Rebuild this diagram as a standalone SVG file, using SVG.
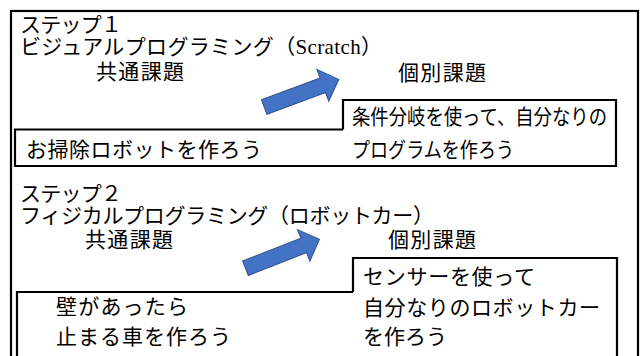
<svg xmlns="http://www.w3.org/2000/svg" width="642" height="356" viewBox="0 0 642 356">
<style>
.frame{fill:#fff;stroke:#000;stroke-width:2.2}
.box{fill:#fff;stroke:#000;stroke-width:2.2}
.hd{font-family:"Liberation Serif","Noto Sans CJK JP",serif;font-size:21px;fill:#000}
.tx{font-family:"Noto Sans CJK JP",sans-serif;font-size:21px;fill:#000}
.arrow{fill:#4472C4;stroke:#2F528F;stroke-width:1}
</style>
<defs>
<polygon id="blockArrow" points="0,-7.8 62.5,-7.8 62.5,-17 79.5,0 62.5,17 62.5,7.8 0,7.8"/>
</defs>
<rect width="642" height="356" fill="#fff"/>
<g id="frame">
<rect class="frame" x="11" y="11" width="627" height="360"/>
</g>
<g id="step1-header">
<text class="hd" x="20" y="32" textLength="102" lengthAdjust="spacing">ステップ１</text>
<text class="hd" x="20" y="54" textLength="362" lengthAdjust="spacing">ビジュアルプログラミング（Scratch）</text>
<text class="hd" x="96" y="79" textLength="88" lengthAdjust="spacing">共通課題</text>
<text class="hd" x="398" y="80" textLength="88" lengthAdjust="spacing">個別課題</text>
</g>
<g id="step1-common">
<path class="box" d="M343,129.5 H15 V166 H343"/>
<text class="tx" x="26" y="157" textLength="236" lengthAdjust="spacing">お掃除ロボットを作ろう</text>
</g>
<g id="step1-individual">
<path class="box" d="M343,129.5 V100 H616 V166 H343"/>
<text class="tx" x="352" y="124" textLength="255" lengthAdjust="spacingAndGlyphs">条件分岐を使って、自分なりの</text>
<text class="tx" x="352" y="157" textLength="162" lengthAdjust="spacingAndGlyphs">プログラムを作ろう</text>
</g>
<g id="step2-header">
<text class="hd" x="20" y="201" textLength="102" lengthAdjust="spacing">ステップ２</text>
<text class="hd" x="20" y="223" textLength="414" lengthAdjust="spacing">フィジカルプログラミング（ロボットカー）</text>
<text class="hd" x="85" y="247" textLength="88" lengthAdjust="spacing">共通課題</text>
<text class="hd" x="388" y="247" textLength="88" lengthAdjust="spacing">個別課題</text>
</g>
<g id="step2-common">
<path class="box" d="M353,292 H17 V370"/>
<text class="tx" x="56" y="314" textLength="132" lengthAdjust="spacing">壁があったら</text>
<text class="tx" x="56" y="344" textLength="175" lengthAdjust="spacing">止まる車を作ろう</text>
</g>
<g id="step2-individual">
<path class="box" d="M353,292 V258 H617 V370"/>
<text class="tx" x="363" y="284" textLength="172" lengthAdjust="spacing">センサーを使って</text>
<text class="tx" x="363" y="315" textLength="237" lengthAdjust="spacing">自分なりのロボットカー</text>
<text class="tx" x="363" y="344">を作ろう</text>
</g>
<g id="connectors">
<use href="#blockArrow" class="arrow" transform="translate(264.2,107) rotate(-20.3)"/>
<use href="#blockArrow" class="arrow" transform="translate(245.5,268.3) rotate(-21.5)"/>
</g>
</svg>
